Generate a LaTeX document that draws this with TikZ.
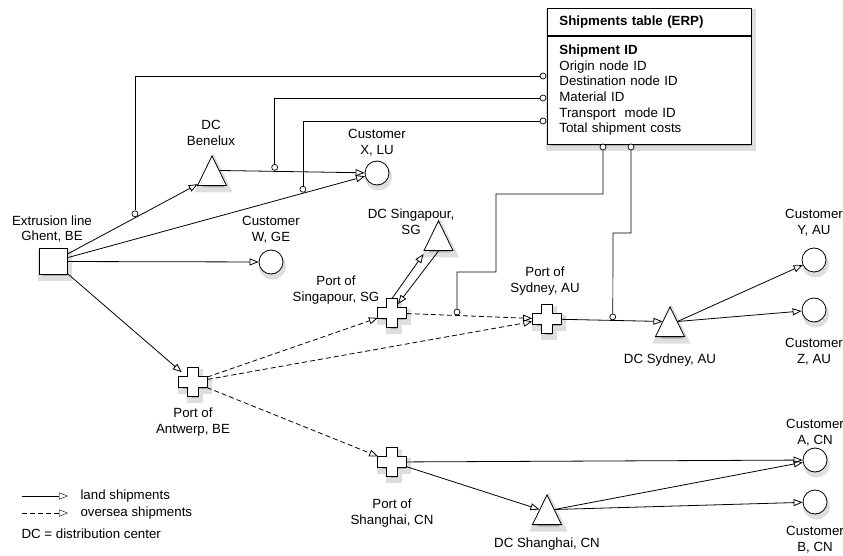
\documentclass[tikz,border=0pt]{standalone}
\usepackage{fontspec}
\setmainfont{Liberation Sans}
\usetikzlibrary{arrows.meta,positioning,calc,shapes.geometric}
\pgfdeclarelayer{back}
\pgfsetlayers{back,main}

\begin{document}
\begin{tikzpicture}[x=1pt,y=1pt,font=\fontsize{13.3}{15.6}\selectfont,
 >={Triangle[open,length=9pt,width=7pt]},line width=.8pt,
 shadowfill/.style={fill=black!32,draw=black!13,line width=5pt},
 plant/.style={draw,fill=white,minimum width=28pt,minimum height=26pt,inner sep=0pt},
 dc/.style={draw,fill=white,isosceles triangle,isosceles triangle apex angle=52,shape border rotate=90,
   minimum width=29pt,minimum height=29pt,inner sep=0pt,anchor=lower side},
 cust/.style={draw,fill=white,circle,minimum size=24pt,inner sep=0pt},
 port/.style={circle,minimum size=29pt,inner sep=0pt},
 crossbox/.style={draw,fill=white,line join=miter},
 lbl/.style={align=center,inner sep=0pt},
 tbl/.style={draw,fill=white,minimum width=204pt,text width=180pt,inner xsep=12pt,align=left},
 knob/.style={draw,fill=white,circle,minimum size=6pt,inner sep=0pt,line width=.7pt},
 land/.style={->},
 sea/.style={->,dash pattern=on 5pt off 3pt},
 link/.style={line width=.7pt}]

\useasboundingbox (0,0) rectangle (843,555);

% sites
\node[plant] (extr) at (53.5,293.5) {};
\node[lbl] (extrlbl) at (52,326) {Extrusion line\\Ghent, BE};
\node[dc] (dcben) at (212,369) {};
\node[lbl] (dcbenlbl) at (211,422) {DC\\Benelux};
\node[cust] (custx) at (377,382) {};
\node[lbl] (custxlbl) at (377,412) {Customer\\X, LU};
\node[cust] (custw) at (271,293) {};
\node[lbl] (custwlbl) at (271,325) {Customer\\W, GE};
\node[port] (antw) at (193,173) {};
\node[lbl] (antwlbl) at (193,133) {Port of\\Antwerp, BE};
\node[port] (portsg) at (392,242) {};
\node[lbl] (portsglbl) at (336,265) {Port of\\Singapour, SG};
\node[dc] (dcsg) at (438.5,304) {};
\node[lbl] (dcsglbl) at (411,333) {DC Singapour,\\SG};
\node[port] (portsy) at (547,236) {};
\node[lbl] (portsylbl) at (545,274) {Port of\\Sydney, AU};
\node[dc] (dcsy) at (670,218) {};
\node[lbl] (dcsylbl) at (670,195) {DC Sydney, AU};
\node[cust] (custy) at (814,295) {};
\node[lbl] (custylbl) at (814,332) {Customer\\Y, AU};
\node[cust] (custz) at (814,245) {};
\node[lbl] (custzlbl) at (814,203) {Customer\\Z, AU};
\node[port] (portsh) at (392,93) {};
\node[lbl] (portshlbl) at (392,42) {Port of\\Shanghai, CN};
\node[dc] (dcsh) at (547,30) {};
\node[lbl] (dcshlbl) at (547,11) {DC Shanghai, CN};
\node[cust] (custa) at (815,95) {};
\node[lbl] (custalbl) at (815,122) {Customer\\A, CN};
\node[cust] (custb) at (815,53) {};
\node[lbl] (custblbl) at (815,15) {Customer\\B, CN};

\foreach \p in {antw,portsg,portsy,portsh}{
  \fill[shadowfill] ($(\p)+(-4,10.5)$) -- ++(11,0) -- ++(0,-9) -- ++(9,0) -- ++(0,-11) -- ++(-9,0) -- ++(0,-9)
    -- ++(-11,0) -- ++(0,9) -- ++(-9,0) -- ++(0,11) -- ++(9,0) -- cycle;
  \draw[crossbox] ($(\p)+(-5.5,14.5)$) -- ++(11,0) -- ++(0,-9) -- ++(9,0) -- ++(0,-11) -- ++(-9,0) -- ++(0,-9)
    -- ++(-11,0) -- ++(0,9) -- ++(-9,0) -- ++(0,11) -- ++(9,0) -- cycle;}

% shipments
\draw[land] (extr) -- (dcben);
\draw[land] (extr) -- (custx);
\draw[land] (extr) -- (custw);
\draw[land] (extr) -- (antw);
\draw[land] (dcben.right side) -- (custx);
\draw[sea] (antw) -- (portsg);
\draw[sea] (antw) -- (portsy);
\draw[sea] (antw) -- (portsh);
\draw[sea] (portsg) -- (portsy);
\draw[land] ($(portsg)+(0,14.5)$) -- ($(dcsg.lower side)+(-15,-3)$);
\draw[land] (dcsg.lower side) -- ($(portsg)+(6,9)$);
\draw[land] (portsy) -- (dcsy.left side);
\draw[land] (dcsy.right side) -- (custy);
\draw[land] (dcsy.right side) -- (custz);
\draw[land] (portsh) -- (custa);
\draw[land] (portsh) -- (dcsh.left side);
\draw[land] (dcsh.right side) -- (custa);
\draw[land] (dcsh.right side) -- (custb);

% ERP table
\node[tbl,minimum height=27pt,inner ysep=0pt,anchor=north west] (erphead) at (547,547) {\textbf{Shipments table (ERP)}};
\node[tbl,minimum height=108pt,inner ysep=7pt,below=0pt of erphead] (erp) {\textbf{Shipment ID}\\Origin node ID\\Destination node ID\\Material ID\\Transport~ mode ID\\Total shipment costs};

\node[knob] (t1) at (543,479) {};
\node[knob] (t2) at (543,457) {};
\node[knob] (t3) at (543,434) {};
\node[knob] (b1) at (603,408) {};
\node[knob] (b2) at (631,408) {};
\node[knob] (k1) at ($(extr)!.514!(dcben)+(0,4)$) {};
\node[knob] (k2) at ($(dcben.right side)!.35!(custx)+(0,4)$) {};
\node[knob] (k3) at ($(extr)!.771!(custx)+(0,4)$) {};
\node[knob] (k4) at ($(portsg)!.419!(portsy)+(0,3.5)$) {};
\node[knob] (k5) at ($(portsy)!.57!(dcsy.left side)+(0,3.5)$) {};

\draw[link] (t1) -| (k1);
\draw[link] (t2) -| (k2);
\draw[link] (t3) -| (k3);
\draw[link] (b1) |- (496,361) |- (457,283) -- (k4);
\draw[link] (b2) |- (613,322) -- (k5);

% shadows under the shapes
\begin{pgfonlayer}{back}
\foreach \n in {custx,custw,custy,custz,custa,custb}
  \fill[shadowfill] ($(\n)+(1.5,-4)$) circle (11);
\foreach \n in {dcben,dcsg,dcsy,dcsh}
  \fill[shadowfill] ($(\n.apex)+(1.5,-4)$) -- ($(\n.left corner)+(1.5,-4)$) -- ($(\n.right corner)+(1.5,-4)$) -- cycle;
\fill[shadowfill] ($(extr.north west)+(1.5,-4)$) rectangle ($(extr.south east)+(1.5,-4)$);
\fill[shadowfill] ($(erphead.north west)+(1.5,-4)$) rectangle ($(erp.south east)+(1.5,-4)$);
\end{pgfonlayer}

% legend
\node[anchor=west] (legland) at (77,59) {land shipments};
\node[anchor=west] (legsea) at (77,42) {oversea shipments};
\node[anchor=west] (legdc) at (18,21) {DC = distribution center};
\coordinate (l1) at (22,59);
\coordinate (l2) at (22,42);
\draw[land,shorten >=9pt] (l1) -- (legland);
\draw[sea,shorten >=9pt] (l2) -- (legsea);

\end{tikzpicture}
\end{document}
